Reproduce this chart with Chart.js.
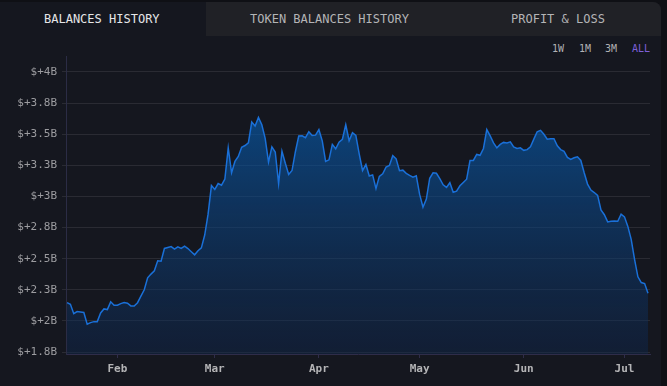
<!DOCTYPE html>
<html>
<head>
<meta charset="utf-8">
<script src="https://cdn.jsdelivr.net/npm/chart.js@4/dist/chart.umd.min.js"></script>
<style>
  html, body { margin: 0; padding: 0; background: #0f1015; width: 667px; height: 386px; overflow: hidden; }
  #card { position: absolute; left: 0; top: 2px; width: 661px; height: 384px; background: #15171f; border-top-right-radius: 8px; }
  #tabsBg { position: absolute; left: 206px; top: 2px; width: 455px; height: 34px; background: #202126; border-top-right-radius: 8px; }
  .tab { position: absolute; top: 12px; font-family: "DejaVu Sans Mono", monospace; font-size: 12px; line-height: 14px; white-space: nowrap; color: #b4b4b6; }
  .rng { position: absolute; top: 43px; font-family: "DejaVu Sans Mono", monospace; font-size: 10px; line-height: 12px; color: #b2b2b4; }
  #c { position: absolute; left: 0; top: 0; }
</style>
</head>
<body>
<div id="card"></div>
<div id="tabsBg"></div>
<div class="tab" style="left:44px;color:#e6e6e8;">BALANCES HISTORY</div>
<div class="tab" style="left:250px;">TOKEN BALANCES HISTORY</div>
<div class="tab" style="left:511px;">PROFIT &amp; LOSS</div>
<div class="rng" style="left:552px;">1W</div>
<div class="rng" style="left:579px;">1M</div>
<div class="rng" style="left:605px;">3M</div>
<div class="rng" style="left:632px;color:#7d5fd8;">ALL</div>
<canvas id="c" width="667" height="386"></canvas>
<script>
// Day index within 2024 (0 = Jan 1). Daily series starts Jan 17.
const startDay = 16;
// Total balance, billions USD, one value per day
const balances = [
  2.147,2.134,2.058,2.075,2.072,2.068,1.973,1.986,1.994,1.994,
  2.064,2.096,2.091,2.153,2.126,2.126,2.139,2.147,2.142,2.120,
  2.120,2.146,2.199,2.250,2.346,2.376,2.402,2.483,2.479,2.582,
  2.590,2.597,2.576,2.595,2.583,2.600,2.581,2.556,2.531,2.564,
  2.587,2.690,2.857,3.087,3.056,3.103,3.090,3.140,3.389,3.190,
  3.281,3.321,3.395,3.409,3.431,3.597,3.565,3.635,3.576,3.467,
  3.276,3.398,3.357,3.103,3.363,3.266,3.177,3.208,3.359,3.485,
  3.487,3.472,3.520,3.489,3.492,3.536,3.446,3.281,3.294,3.418,
  3.383,3.436,3.459,3.575,3.447,3.512,3.490,3.342,3.208,3.256,
  3.164,3.173,3.063,3.161,3.182,3.235,3.248,3.327,3.302,3.207,
  3.211,3.185,3.169,3.154,3.165,3.016,2.913,2.979,3.146,3.190,
  3.186,3.143,3.093,3.072,3.110,3.033,3.042,3.085,3.112,3.138,
  3.288,3.289,3.337,3.330,3.385,3.537,3.487,3.430,3.390,3.418,
  3.434,3.430,3.438,3.397,3.385,3.390,3.370,3.376,3.399,3.460,
  3.519,3.531,3.499,3.459,3.463,3.463,3.407,3.376,3.362,3.313,
  3.297,3.310,3.318,3.289,3.190,3.099,3.051,3.031,3.008,2.891,
  2.853,2.795,2.800,2.803,2.800,2.858,2.836,2.759,2.655,2.494,
  2.354,2.308,2.300,2.223
];
const monthTickDays = [31, 60, 91, 121, 152, 182];
const monthLabels = ['Feb', 'Mar', 'Apr', 'May', 'Jun', 'Jul'];
const yTickValues = [1.75, 2.0, 2.25, 2.5, 2.75, 3.0, 3.25, 3.5, 3.75, 4.0];
const yTickLabels = ['$+1.8B', '$+2B', '$+2.3B', '$+2.5B', '$+2.8B', '$+3B', '$+3.3B', '$+3.5B', '$+3.8B', '$+4B'];

const points = balances.map((v, i) => ({ x: startDay + i, y: v }));
const maxVal = Math.max(...balances);

new Chart(document.getElementById('c'), {
  type: 'line',
  data: {
    datasets: [{
      data: points,
      borderColor: '#1a70d8',
      borderWidth: 1.5,
      pointRadius: 0,
      tension: 0,
      fill: 'start',
      backgroundColor: (ctx) => {
        const chart = ctx.chart;
        const area = chart.chartArea;
        if (!area) return 'rgba(8,90,170,0.5)';
        const top = chart.scales.y.getPixelForValue(maxVal);
        const g = chart.ctx.createLinearGradient(0, top, 0, area.bottom);
        g.addColorStop(0, 'rgba(8,90,170,0.66)');
        g.addColorStop(1, 'rgba(15,40,80,0.43)');
        return g;
      }
    }]
  },
  options: {
    responsive: false,
    animation: false,
    devicePixelRatio: 1,
    layout: { padding: { top: 56, right: 17, left: 0, bottom: 0 } },
    plugins: { legend: { display: false }, tooltip: { enabled: false } },
    scales: {
      x: {
        type: 'linear',
        min: 15.69,
        max: 189.6,
        afterBuildTicks: (s) => { s.ticks = monthTickDays.map(v => ({ value: v })); },
        afterFit: (s) => { s.height = 32; },
        ticks: {
          callback: (v, i) => monthLabels[i],
          color: '#b4b4b6',
          font: { family: 'DejaVu Sans Mono', size: 11, weight: 'bold' },
          padding: 5,
          maxRotation: 0,
          autoSkip: false
        },
        grid: { drawOnChartArea: false, tickLength: 4, color: '#2f2d4a' },
        border: { color: '#2f2d4a', width: 1 }
      },
      y: {
        min: 1.734,
        max: 4.128,
        z: 1,
        afterBuildTicks: (s) => { s.ticks = yTickValues.map(v => ({ value: v })); },
        afterFit: (s) => { s.width = 66; },
        ticks: {
          callback: (v, i) => yTickLabels[i],
          color: '#9c9ca0',
          font: { family: 'DejaVu Sans Mono', size: 11 },
          padding: 5
        },
        grid: { color: 'rgba(255,255,255,0.09)', tickLength: 4 },
        border: { color: '#2b2c45', width: 1 }
      }
    }
  }
});
</script>
</body>
</html>
